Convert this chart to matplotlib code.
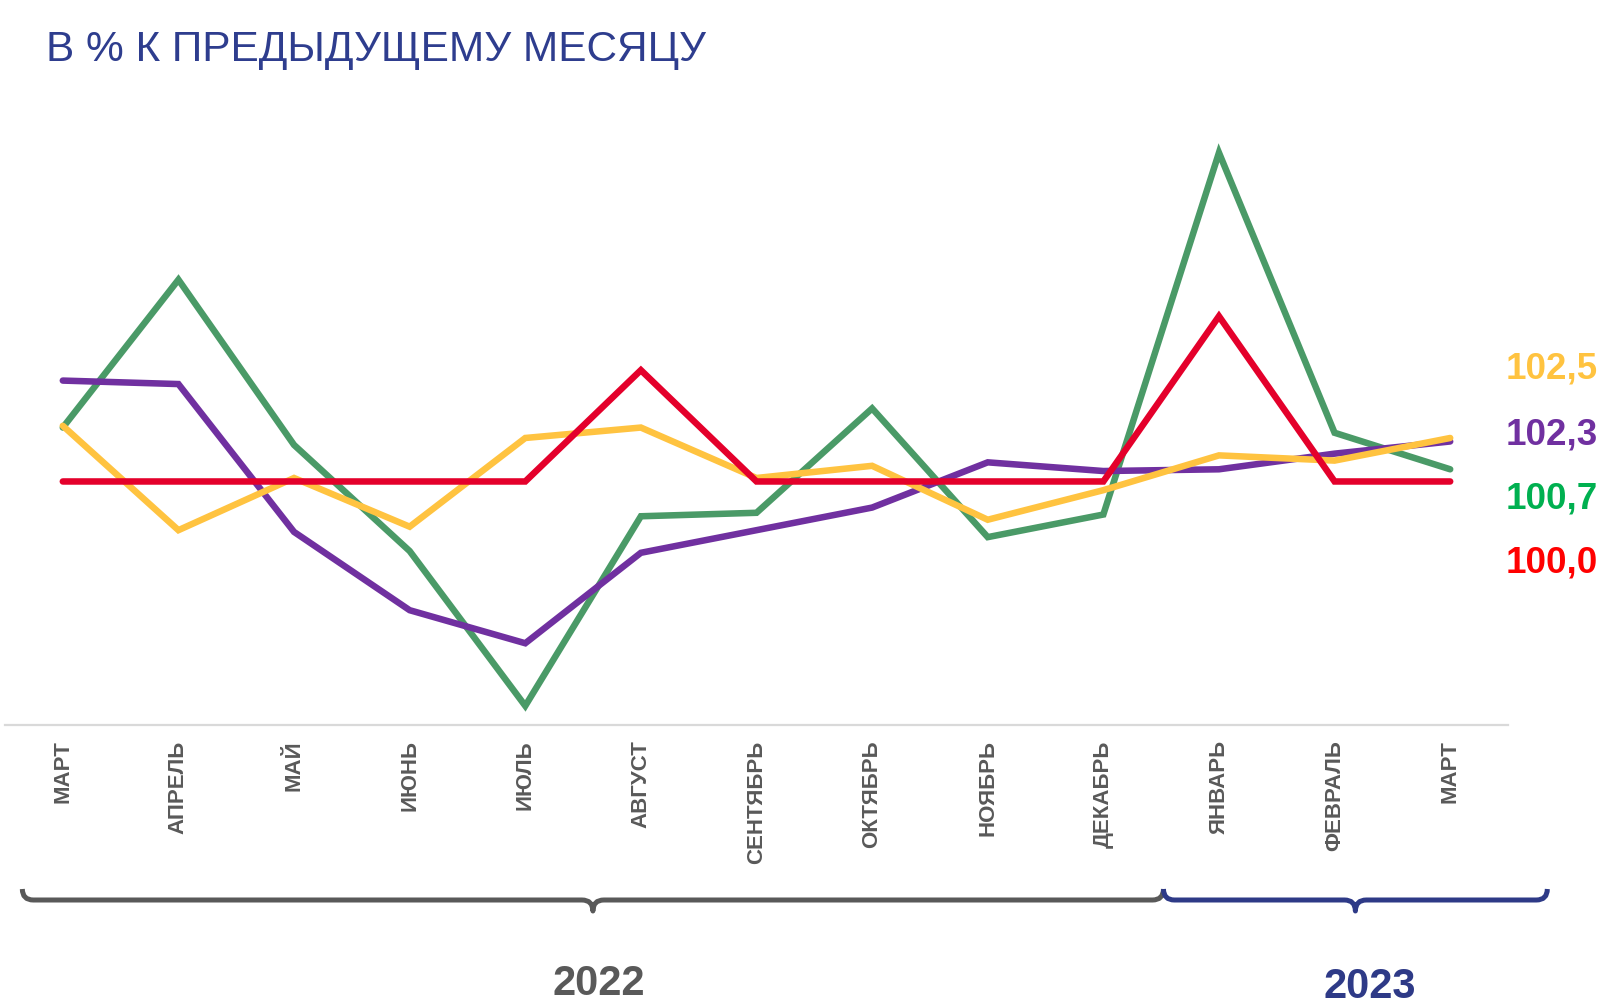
import matplotlib
matplotlib.use("Agg")
import matplotlib.pyplot as plt
from matplotlib.path import Path
from matplotlib.patches import PathPatch

plt.rcParams['font.family'] = ['Liberation Sans', 'DejaVu Sans']

months = ["МАРТ", "АПРЕЛЬ", "МАЙ", "ИЮНЬ", "ИЮЛЬ", "АВГУСТ", "СЕНТЯБРЬ",
          "ОКТЯБРЬ", "НОЯБРЬ", "ДЕКАБРЬ", "ЯНВАРЬ", "ФЕВРАЛЬ", "МАРТ"]
green = [103.1, 111.6, 102.1, 96.0, 87.1, 98.0, 98.2, 104.2, 96.8, 98.1, 118.9, 102.8, 100.7]
purple = [105.8, 105.6, 97.1, 92.6, 90.7, 95.9, 97.2, 98.5, 101.1, 100.6, 100.7, 101.6, 102.3]
yellow = [103.2, 97.2, 100.2, 97.4, 102.5, 103.1, 100.2, 100.9, 97.8, 99.5, 101.5, 101.2, 102.5]
red = [100.0, 100.0, 100.0, 100.0, 100.0, 106.4, 100.0, 100.0, 100.0, 100.0, 109.5, 100.0, 100.0]
end_labels = ["102,5", "102,3", "100,7", "100,0"]
title = "В % К ПРЕДЫДУЩЕМУ МЕСЯЦУ"
years = ["2022", "2023"]

C_GREEN = "#4A9A67"
C_PURPLE = "#7030A0"
C_YELLOW = "#FFC340"
C_RED = "#E4002B"

W, H = 1603, 1001
fig = plt.figure(figsize=(W / 100, H / 100), dpi=100)
fig.patch.set_facecolor("white")
ax = fig.add_axes([5 / W, 1 - 725 / H, 1503 / W, (725 - 64) / H])
ax.set_xlim(-0.5, 12.5)
ax.set_ylim(86, 124)

x = list(range(len(months)))
lw = 4.7
for series, col in [(green, C_GREEN), (purple, C_PURPLE), (yellow, C_YELLOW), (red, C_RED)]:
    ax.plot(x, series, color=col, lw=lw, solid_capstyle="round", solid_joinstyle="miter")

for s in ["top", "right", "left"]:
    ax.spines[s].set_visible(False)
ax.spines["bottom"].set_color("#D9D9D9")
ax.spines["bottom"].set_linewidth(1.6)
ax.set_yticks([])
ax.set_xticks(x)
ax.set_xticklabels(months, rotation=90, fontsize=16, fontweight="bold", color="#595959",
                   va="top", ha="center")
ax.tick_params(axis="x", length=0, pad=11)

# title
fig.text(46 / W, 1 - 61 / H, title, fontsize=30.5, color="#2E3D8E", va="baseline", ha="left")

# end labels
label_cols = [C_YELLOW, C_PURPLE, "#00B050", "#FF0000"]
label_base = [378, 444, 508, 573]
for txt, col, yb in zip(end_labels, label_cols, label_base):
    fig.text(1506 / W, 1 - yb / H, txt, fontsize=26.5, fontweight="bold", color=col,
             va="baseline", ha="left")

# braces
fig.canvas.draw()

def brace(x1, x2, y_top_px, color):
    # x in data units, y in pixels from top of figure
    p1 = ax.transData.transform((x1, 0))[0]
    p2 = ax.transData.transform((x2, 0))[0]
    pm = (p1 + p2) / 2
    y0 = H - y_top_px
    r = 11
    verts = [(p1, y0 + r), (p1, y0), (p1 + r, y0),
             (pm - r, y0), (pm, y0), (pm, y0 - r),
             (pm, y0), (pm + r, y0),
             (p2 - r, y0), (p2, y0), (p2, y0 + r)]
    codes = [Path.MOVETO, Path.CURVE3, Path.CURVE3,
             Path.LINETO, Path.CURVE3, Path.CURVE3,
             Path.CURVE3, Path.CURVE3,
             Path.LINETO, Path.CURVE3, Path.CURVE3]
    patch = PathPatch(Path(verts, codes), transform=None, fill=False,
                      edgecolor=color, lw=3.6, capstyle="butt", joinstyle="round")
    fig.add_artist(patch)
    return pm

pm1 = brace(-0.35, 9.52, 900, "#595959")
pm2 = brace(9.52, 12.84, 900, "#2E3A87")

fig.text((pm1 + 6) / W, 1 - 964 / H, years[0], fontsize=30, fontweight="bold", color="#595959",
         ha="center", va="top")
fig.text((pm2 + 14) / W, 1 - 967 / H, years[1], fontsize=30, fontweight="bold", color="#2E3A87",
         ha="center", va="top")

fig.savefig("out.png", dpi=100, facecolor="white")
